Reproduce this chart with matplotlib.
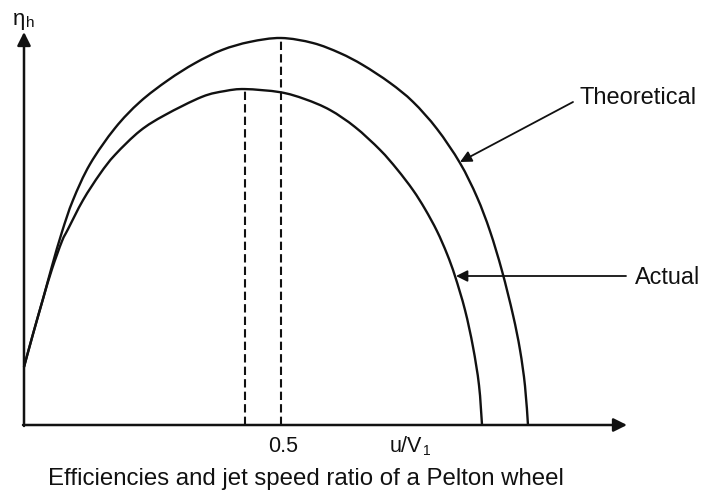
import matplotlib.pyplot as plt
import numpy as np
from matplotlib.path import Path
from matplotlib.patches import PathPatch

plt.rcParams['font.family'] = ['Liberation Sans', 'DejaVu Sans']

# jet speed ratio u/V1 and hydraulic efficiency (peak of theoretical = 1)
x_theo = [0.0, 0.0175, 0.0370, 0.0545, 0.0739, 0.0953, 0.1284, 0.1770, 0.2257, 0.2802,
          0.3327, 0.3852, 0.4397, 0.5, 0.5623, 0.6148, 0.6595, 0.7121, 0.7568, 0.8035,
          0.8482, 0.8813, 0.9066, 0.9300, 0.9514, 0.9650, 0.9747, 0.9805]
y_theo = [0.150, 0.235, 0.326, 0.411, 0.499, 0.581, 0.674, 0.767, 0.835, 0.891,
          0.935, 0.969, 0.990, 1.000, 0.987, 0.961, 0.930, 0.884, 0.835, 0.765,
          0.677, 0.589, 0.501, 0.398, 0.284, 0.194, 0.101, 0.0]

x_act = [0.0, 0.0175, 0.0370, 0.0545, 0.0739, 0.0856, 0.1148, 0.1479, 0.1770, 0.2257,
         0.2743, 0.3463, 0.3911, 0.4300, 0.4981, 0.5467, 0.5953, 0.6440, 0.6926, 0.7257,
         0.7568, 0.7802, 0.8035, 0.8230, 0.8385, 0.8580, 0.8735, 0.8852, 0.8911]
y_act = [0.150, 0.235, 0.326, 0.403, 0.475, 0.506, 0.581, 0.649, 0.698, 0.760,
         0.801, 0.848, 0.863, 0.868, 0.860, 0.842, 0.814, 0.770, 0.711, 0.661,
         0.607, 0.558, 0.501, 0.442, 0.385, 0.297, 0.202, 0.103, 0.0]

peak_theo = (0.5, 1.0)
peak_act = (0.430, 0.868)

# image geometry (pixels) -> data
W, H = 702, 492
x0, y0 = 24, 425           # origin in pixels
sx = 0.5 / 257             # u/V1 per pixel
sy = 1.0 / 387             # efficiency per pixel

def px(x, y):
    return ((x - x0) * sx, (y0 - y) * sy)

def smooth_path(xs, ys):
    # bezier segments through the read points (catmull-rom handles)
    p = np.column_stack([xs, ys])
    q = np.vstack([p[0], p, p[-1]])
    verts = [p[0]]
    codes = [Path.MOVETO]
    for i in range(1, len(q) - 2):
        c1 = q[i] + (q[i + 1] - q[i - 1]) / 6
        c2 = q[i + 1] - (q[i + 2] - q[i]) / 6
        verts += [c1, c2, q[i + 1]]
        codes += [Path.CURVE4] * 3
    return Path(verts, codes)

fig = plt.figure(figsize=(W / 100, H / 100), dpi=100)
ax = fig.add_axes([0, 0, 1, 1])
ax.set_xlim(-x0 * sx, (W - x0) * sx)
ax.set_ylim((y0 - H) * sy, y0 * sy)
ax.axis('off')

ink = '#111111'
for xs, ys in [(x_theo, y_theo), (x_act, y_act)]:
    ax.add_patch(PathPatch(smooth_path(xs, ys), fc='none', ec=ink, lw=1.7, capstyle='butt'))

ax.plot([peak_theo[0]] * 2, [0, peak_theo[1]], color=ink, lw=1.5, ls=(0, (4, 2)))
ax.plot([peak_act[0]] * 2, [0, peak_act[1]], color=ink, lw=1.5, ls=(0, (4, 2)))

# axes with arrows
arr = dict(arrowstyle='-|>', lw=1.8, color=ink, mutation_scale=20, shrinkA=0, shrinkB=0)
ax.annotate('', xy=px(24, 32), xytext=px(24, 426), arrowprops=arr)
ax.annotate('', xy=px(627, 425), xytext=px(23, 425), arrowprops=arr)

# labels with arrows
lab = dict(arrowstyle='-|>', lw=1.3, color=ink, mutation_scale=17, shrinkA=0, shrinkB=0)
ax.annotate('', xy=px(460, 162), xytext=px(573, 102), arrowprops=lab)
ax.annotate('', xy=px(456, 276), xytext=px(626, 276), arrowprops=lab)
ax.text(*px(580, 98), 'Theoretical', fontsize=17, ha='left', va='center', color=ink)
ax.text(*px(635, 278), 'Actual', fontsize=16.8, ha='left', va='center', color=ink)

ax.text(*px(13, 20), 'η', fontsize=16, ha='left', va='center', color=ink)
ax.text(*px(26, 23), 'h', fontsize=11, ha='left', va='center', color=ink)

ax.text(*px(283, 446), '0.5', fontsize=15.5, ha='center', va='center', color=ink)
ax.text(*px(390, 446), 'u/V', fontsize=15.5, ha='left', va='center', color=ink)
ax.text(*px(423, 451), '1', fontsize=10, ha='left', va='center', color=ink)

ax.text(*px(48, 485), 'Efficiencies and jet speed ratio of a Pelton wheel',
        fontsize=17.3, ha='left', va='baseline', color=ink)

fig.savefig('out.png', dpi=100)
